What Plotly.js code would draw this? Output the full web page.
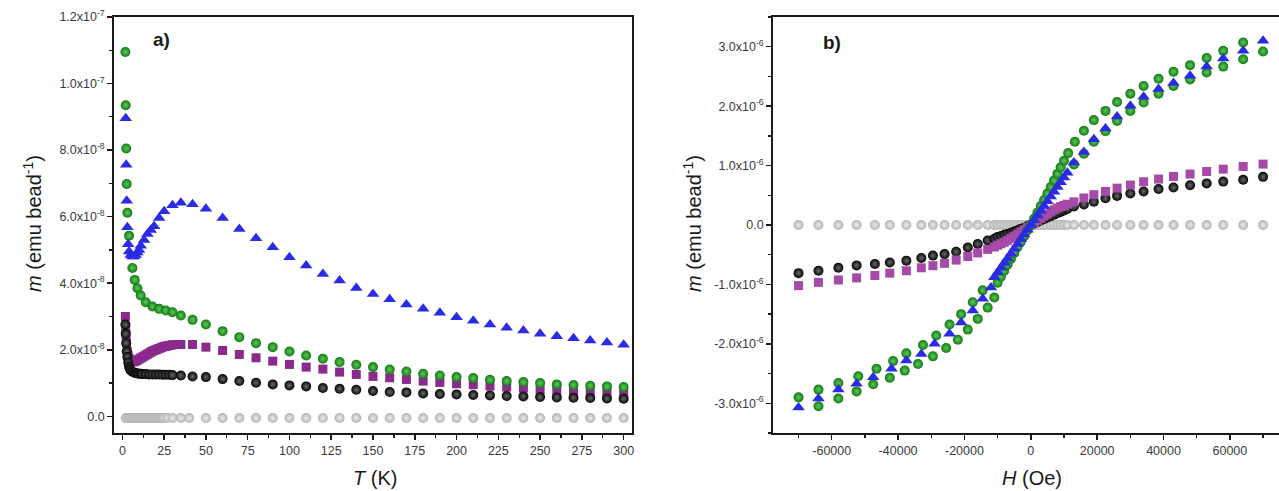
<!DOCTYPE html>
<html><head><meta charset="utf-8">
<script src="https://cdn.plot.ly/plotly-3.0.1.min.js"></script>
<style>html,body{margin:0;padding:0;background:#fff;}#chart{width:1279px;height:491px;}</style>
</head><body><div id="chart"></div>
<script>
// ---------- Panel a: m vs T (values in units of 1e-8 emu/bead) ----------
const T_green = [1.8,2,2.3,2.6,3,4,6,7.4,9,11,14,18,22,26,30,35,42,50,60,70,80,90,100,110,120,130,140,150,160,170,180,190,200,210,220,230,240,250,260,270,280,290,300];
const m_green = [10.95,9.35,8.05,6.98,6.12,5.43,4.46,4.10,3.85,3.63,3.43,3.30,3.23,3.18,3.13,3.03,2.90,2.76,2.56,2.38,2.20,2.08,1.95,1.83,1.73,1.63,1.55,1.48,1.41,1.35,1.28,1.23,1.18,1.15,1.10,1.06,1.03,1.00,0.96,0.94,0.92,0.90,0.88];

const T_blue = [2,2.3,2.6,3,3.5,4,5,6,7,8,9,10,11,13,15,17,19,22,25,30,35,42,50,60,70,80,90,100,110,120,130,140,150,160,170,180,190,200,210,220,230,240,250,260,270,280,290,300];
const m_blue = [8.96,7.56,6.48,5.68,5.17,4.95,4.85,4.80,4.80,4.85,4.92,5.00,5.13,5.30,5.48,5.60,5.71,5.96,6.16,6.34,6.42,6.37,6.24,5.96,5.63,5.35,5.08,4.78,4.53,4.28,4.08,3.86,3.68,3.52,3.36,3.23,3.11,2.98,2.87,2.76,2.66,2.58,2.48,2.41,2.35,2.28,2.22,2.15];

const T_purple = [1.8,2,2.2,2.5,3,3.5,4,5,6,7,8,9,10,11,12,13,14,15,16,17,18,19,20,21,22,23,24,25,26,27,28,29,30,32,35,42,50,60,70,80,90,100,110,120,130,140,150,160,170,180,190,200,210,220,230,240,250,260,270,280,290,300];
const m_purple = [3.00,2.70,2.45,2.20,1.95,1.82,1.74,1.67,1.64,1.64,1.66,1.69,1.72,1.75,1.78,1.81,1.84,1.87,1.90,1.93,1.96,1.98,2.00,2.02,2.04,2.06,2.08,2.10,2.11,2.12,2.13,2.14,2.15,2.16,2.16,2.16,2.08,1.98,1.86,1.76,1.66,1.56,1.48,1.42,1.33,1.26,1.20,1.16,1.11,1.06,1.02,0.98,0.95,0.91,0.88,0.85,0.81,0.78,0.76,0.73,0.71,0.69];

const T_black = [1.8,2,2.3,2.6,3,3.5,4,4.5,5,6,7,8,9,10,11,12,14,16,18,20,22,24,26,28,30,35,42,50,60,70,80,90,100,110,120,130,140,150,160,170,180,190,200,210,220,230,240,250,260,270,280,290,300];
const m_black = [2.76,2.48,2.20,1.95,1.78,1.62,1.50,1.43,1.38,1.34,1.32,1.30,1.29,1.28,1.28,1.27,1.27,1.26,1.26,1.26,1.26,1.25,1.25,1.25,1.24,1.23,1.20,1.18,1.12,1.06,1.01,0.96,0.93,0.90,0.85,0.83,0.80,0.76,0.73,0.72,0.69,0.67,0.66,0.64,0.63,0.61,0.60,0.58,0.57,0.56,0.55,0.54,0.53];

const T_gray = [2,3,4,5,6,7,8,9,10,11,12,13,14,15,16,17,18,19,20,21,22,23,24,25,27,30,35,40,50,60,70,80,90,100,110,120,130,140,150,160,170,180,190,200,210,220,230,240,250,260,270,280,290,300];
const m_gray = [-0.05,-0.05,-0.05,-0.05,-0.05,-0.05,-0.05,-0.05,-0.05,-0.05,-0.05,-0.05,-0.05,-0.05,-0.05,-0.05,-0.05,-0.05,-0.05,-0.05,-0.05,-0.05,-0.05,-0.05,-0.05,-0.05,-0.05,-0.05,-0.05,-0.05,-0.05,-0.05,-0.05,-0.05,-0.05,-0.05,-0.05,-0.05,-0.05,-0.05,-0.05,-0.05,-0.05,-0.05,-0.05,-0.05,-0.05,-0.05,-0.05,-0.05,-0.05,-0.05,-0.05,-0.05];

// ---------- Panel b: m vs H (values in units of 1e-6 emu/bead) ----------
const H_grid = [-70000,-64000,-58000,-52500,-47000,-42500,-37500,-33000,-29500,-26000,-22500,-19000,-16000,-13000,-11000,-10000,-9000,-8000,-7000,-6000,-5000,-4000,-3000,-2000,-1000,0,1000,2000,3000,4000,5000,6000,7000,8000,9000,10000,11000,13000,16000,19000,22500,26000,30000,34000,38500,43000,48000,53000,58000,64000,70000];
const mb_black = [-0.81,-0.77,-0.72,-0.68,-0.655,-0.63,-0.60,-0.555,-0.515,-0.49,-0.45,-0.38,-0.32,-0.26,-0.23,-0.20,-0.185,-0.165,-0.15,-0.13,-0.11,-0.09,-0.065,-0.045,-0.02,0,0.025,0.05,0.075,0.10,0.125,0.15,0.175,0.20,0.22,0.245,0.27,0.31,0.345,0.39,0.45,0.49,0.53,0.565,0.605,0.63,0.67,0.70,0.73,0.76,0.81];
const mb_purple = [-1.02,-0.965,-0.925,-0.89,-0.85,-0.81,-0.77,-0.72,-0.685,-0.645,-0.59,-0.53,-0.47,-0.41,-0.37,-0.34,-0.315,-0.29,-0.26,-0.225,-0.19,-0.155,-0.115,-0.078,-0.04,0,0.037,0.075,0.11,0.15,0.185,0.22,0.255,0.285,0.31,0.33,0.35,0.39,0.454,0.51,0.565,0.62,0.672,0.728,0.773,0.817,0.857,0.90,0.94,0.985,1.025];
const mb_gray = [0,0,0,0,0,0,0,0,0,0,0,0,0,0,0,0,0,0,0,0,0,0,0,0,0,0,0,0,0,0,0,0,0,0,0,0,0,0,0,0,0,0,0,0,0,0,0,0,0,0,0];

const H_greenUp = [-70000,-64000,-58000,-52000,-46500,-41500,-37500,-32500,-28500,-24500,-21000,-17500,-14500,11250,13270,16000,19000,22500,26000,30000,34000,38500,43000,48000,53000,58000,64000];
const mb_greenUp = [-2.90,-2.77,-2.66,-2.545,-2.42,-2.29,-2.16,-2.02,-1.86,-1.675,-1.50,-1.30,-1.10,1.21,1.40,1.585,1.765,1.92,2.07,2.21,2.34,2.46,2.58,2.69,2.81,2.93,3.07];
const H_greenLow = [-64000,-58000,-52500,-47500,-42500,-38000,-34000,-29500,-25500,-22000,-19000,-16000,-13000,-11000,13000,16000,19000,22500,26000,30000,34000,38500,43000,48000,53000,58000,64000,70000];
const mb_greenLow = [-3.05,-2.92,-2.80,-2.68,-2.57,-2.45,-2.34,-2.21,-2.07,-1.93,-1.76,-1.58,-1.39,-1.22,1.02,1.20,1.40,1.58,1.75,1.92,2.06,2.21,2.34,2.45,2.565,2.665,2.79,2.92];
const H_greenMid = [-10000,-9000,-8000,-7000,-6000,-5000,-4000,-3000,-2000,-1000,0,1000,2000,3000,4000,5000,6000,7000,8000,9000,10000];
const mb_greenMid = [-0.97,-0.87,-0.77,-0.67,-0.57,-0.47,-0.37,-0.28,-0.19,-0.09,0.01,0.11,0.21,0.32,0.42,0.53,0.64,0.75,0.86,0.97,1.08];

const H_blue = [-70000,-64000,-58000,-52500,-47500,-42000,-37500,-33000,-29000,-24500,-21000,-17500,-14500,-12000,-11000,-10000,-9000,-8000,-7000,-6000,-5000,-4000,-3000,-2000,-1000,0,1000,2000,3000,4000,5000,6000,7000,8000,9000,10000,11000,13000,16000,19000,22500,26000,30000,34000,38500,43000,48000,53000,58000,64000,70000];
const mb_blue = [-3.07,-2.92,-2.77,-2.67,-2.56,-2.42,-2.28,-2.17,-2.00,-1.83,-1.64,-1.44,-1.24,-1.05,-0.88,-0.80,-0.72,-0.64,-0.56,-0.48,-0.40,-0.32,-0.24,-0.16,-0.08,0.0,0.08,0.16,0.24,0.32,0.40,0.48,0.56,0.64,0.72,0.80,0.88,1.05,1.23,1.445,1.625,1.825,2.005,2.16,2.29,2.39,2.51,2.665,2.80,2.93,3.10];

// ---------- Tick labels ----------
const a_xtickvals = [0,25,50,75,100,125,150,175,200,225,250,275,300];
const a_xticktext = ['0','25','50','75','100','125','150','175','200','225','250','275','300'];
const a_ytickvals = [0,2e-8,4e-8,6e-8,8e-8,1.0e-7,1.2e-7];
const a_yticktext = ['0.0','2.0x10<sup>-8</sup>','4.0x10<sup>-8</sup>','6.0x10<sup>-8</sup>','8.0x10<sup>-8</sup>','1.0x10<sup>-7</sup>','1.2x10<sup>-7</sup>'];
const b_xtickvals = [-60000,-40000,-20000,0,20000,40000,60000];
const b_xticktext = ['-60000','-40000','-20000','0','20000','40000','60000'];
const b_ytickvals = [-3e-6,-2e-6,-1e-6,0,1e-6,2e-6,3e-6];
const b_yticktext = ['-3.0x10<sup>-6</sup>','-2.0x10<sup>-6</sup>','-1.0x10<sup>-6</sup>','0.0','1.0x10<sup>-6</sup>','2.0x10<sup>-6</sup>','3.0x10<sup>-6</sup>'];

const s8 = a => a.map(v => v * 1e-8);
const s6 = a => a.map(v => v * 1e-6);

const W = 1279, Hh = 491;
const px = x => x / W, py = y => 1 - y / Hh;

const sph = (c, g, size) => ({symbol:'circle', size:size, color:c, gradient:{type:'radial', color:g}, line:{width:0}});
const MK = {
  gray: sph('#b4b4b4', '#ececec', 10),
  black: sph('#050505', '#6a6a6a', 10),
  green: sph('#137a13', '#5cc95c', 10),
  purpleA: {symbol:'square', size:9, color:'#8a2a8c', line:{width:0}},
  purpleB: {symbol:'square', size:9, color:'#a64aa8', line:{width:0}},
  blue: {symbol:'triangle-up', size:11, color:'#2b2be6', line:{width:0}}
};

const tr = (x, y, m, xa, ya) => ({x:x, y:y, mode:'markers', type:'scatter', marker:m, xaxis:xa, yaxis:ya, showlegend:false, hoverinfo:'skip'});

const data = [
  tr(T_gray, s8(m_gray), MK.gray, 'x', 'y'),
  tr(T_purple, s8(m_purple), MK.purpleA, 'x', 'y'),
  tr(T_black, s8(m_black), MK.black, 'x', 'y'),
  tr(T_green, s8(m_green), MK.green, 'x', 'y'),
  tr(T_blue, s8(m_blue), MK.blue, 'x', 'y'),

  tr(H_grid, s6(mb_gray), MK.gray, 'x2', 'y2'),
  tr(H_grid, s6(mb_black), MK.black, 'x2', 'y2'),
  tr(H_grid, s6(mb_purple), MK.purpleB, 'x2', 'y2'),
  tr(H_greenUp, s6(mb_greenUp), MK.green, 'x2', 'y2'),
  tr(H_greenLow, s6(mb_greenLow), MK.green, 'x2', 'y2'),
  tr(H_greenMid, s6(mb_greenMid), MK.green, 'x2', 'y2'),
  tr(H_blue, s6(mb_blue), MK.blue, 'x2', 'y2')
];

const tickFont = {family:'Liberation Sans, Arial, sans-serif', size:12.5, color:'#3a3a3a'};
const axBase = {
  showgrid:false, zeroline:false, showline:true, linecolor:'#1a1a1a', linewidth:1.8,
  ticks:'outside', ticklen:5, tickwidth:1.5, tickcolor:'#1a1a1a', tickfont:tickFont,
  tickmode:'array', fixedrange:true
};
const ann = (x, y, text, size, extra) => Object.assign({xref:'paper', yref:'paper', x:px(x), y:py(y), xanchor:'center', yanchor:'middle', text:text, showarrow:false, font:{family:'Liberation Sans, Arial, sans-serif', size:size, color:'#1a1a1a'}}, extra || {});

const layout = {
  width:W, height:Hh, margin:{l:0,r:0,t:0,b:0},
  paper_bgcolor:'#fff', plot_bgcolor:'#fff',
  font:{family:'Liberation Sans, Arial, sans-serif'},
  xaxis: Object.assign({}, axBase, {domain:[px(114), px(632)], range:[-5,305], anchor:'y', mirror:true,
    tickvals:a_xtickvals, ticktext:a_xticktext,
    minor:{tickmode:'linear', tick0:12.5, dtick:25, ticklen:3, tickwidth:1.3, tickcolor:'#1a1a1a', ticks:'outside'}}),
  yaxis: Object.assign({}, axBase, {domain:[py(433), py(17)], range:[-0.5e-8, 1.2e-7], anchor:'x', mirror:true,
    tickvals:a_ytickvals, ticktext:a_yticktext,
    minor:{tickmode:'linear', tick0:1e-8, dtick:2e-8, ticklen:3, tickwidth:1.3, tickcolor:'#1a1a1a', ticks:'outside'}}),
  xaxis2: Object.assign({}, axBase, {domain:[px(773), 1], range:[-77700, 74800], anchor:'y2', mirror:true,
    tickvals:b_xtickvals, ticktext:b_xticktext,
    minor:{tickmode:'linear', tick0:-70000, dtick:20000, ticklen:3, tickwidth:1.3, tickcolor:'#1a1a1a', ticks:'outside'}}),
  yaxis2: Object.assign({}, axBase, {domain:[py(433), py(17)], range:[-3.5e-6, 3.5e-6], anchor:'x2', mirror:false,
    tickvals:b_ytickvals, ticktext:b_yticktext,
    minor:{tickmode:'linear', tick0:-2.5e-6, dtick:1e-6, ticklen:3, tickwidth:1.3, tickcolor:'#1a1a1a', ticks:'outside'}}),
  annotations: [
    ann(162, 40, '<b>a)</b>', 19),
    ann(832, 42, '<b>b)</b>', 19),
    ann(32, 224, '<i>m</i> (emu bead<sup>-1</sup>)', 20, {textangle:-90}),
    ann(692, 224, '<i>m</i> (emu bead<sup>-1</sup>)', 20, {textangle:-90}),
    ann(375, 478, '<i>T</i> (K)', 20),
    ann(1032, 478, '<i>H</i> (Oe)', 20)
  ]
};

Plotly.newPlot('chart', data, layout, {displayModeBar:false, staticPlot:true});
</script></body></html>
